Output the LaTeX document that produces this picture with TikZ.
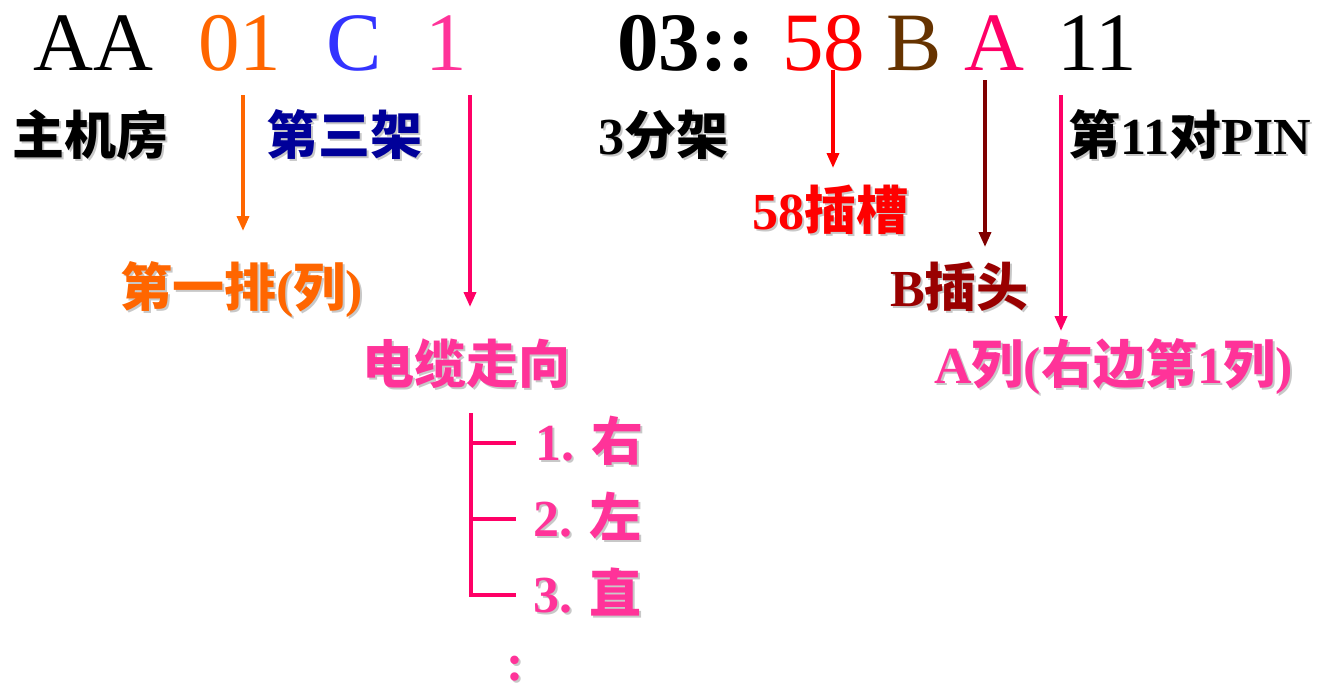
\documentclass[tikz,border=0pt]{standalone}
\usepackage{fontspec}
\setmainfont{Liberation Serif}
\newfontfamily\cjk{Noto Sans CJK SC}
\usetikzlibrary{arrows.meta}
\definecolor{cOrange}{HTML}{FF6600}
\definecolor{cBlue}{HTML}{3333FF}
\definecolor{cPink}{HTML}{FF3399}
\definecolor{cNavy}{HTML}{000099}
\definecolor{cRed}{HTML}{FF0000}
\definecolor{cBrown}{HTML}{663300}
\definecolor{cHot}{HTML}{FF0066}
\definecolor{cDark}{HTML}{800000}
\definecolor{cMaroon}{HTML}{990000}
\definecolor{cShade}{HTML}{C8C8C8}
\newcommand\zh[1]{{\cjk\bfseries #1}}
\newcommand\shlabel[5]{%
  \node[lab,text=cShade] (#1-sh) at (#2+2,#3+2) {#5};
  \node[lab,text=#4] (#1) at (#2,#3) {#5};}
\begin{document}
\begin{tikzpicture}[x=1pt,y=-1pt,
  top/.style={anchor=base west,inner sep=0pt,font=\fontsize{83}{83}\selectfont},
  topb/.style={top,font=\fontsize{83}{83}\selectfont\bfseries},
  lab/.style={anchor=base west,inner sep=0pt,font=\fontsize{52}{52}\selectfont\bfseries},
  arr/.style={line width=3.5pt,-{Triangle[length=15pt,width=12pt]}},
  brk/.style={line width=3.5pt,draw=cHot}]
\useasboundingbox (0,0) rectangle (1319,694);
% top code line
\node[top,text=black] (tAA) at (33,70) {AA};
\node[top,text=cOrange] (t01) at (198,70) {01};
\node[top,text=cBlue] (tC) at (326,70) {C};
\node[top,text=cPink] (t1) at (425,70) {1};
\node[topb,text=black] (t03) at (617,70) {03::};
\node[top,text=cRed] (t58) at (782,70) {58};
\node[top,text=cBrown] (tB) at (886,70) {B};
\node[top,text=cHot] (tA) at (964,70) {A};
\node[top,text=black] (t11) at (1057,70) {11};
% labels
\shlabel{l1}{12}{154}{black}{\zh{主机房}}
\shlabel{l2}{266}{154}{cNavy}{\zh{第三架}}
\shlabel{l3}{598}{154}{black}{3\zh{分架}}
\shlabel{l4}{1068}{154}{black}{\zh{第}11\zh{对}PIN}
\shlabel{l5}{752}{229}{cRed}{58\zh{插槽}}
\shlabel{l6}{120}{306}{cOrange}{\zh{第一排}(\zh{列})}
\shlabel{l7}{890}{306}{cMaroon}{B\zh{插头}}
\shlabel{l8}{362}{383}{cPink}{\zh{电缆走向}}
\shlabel{l9}{934}{383}{cPink}{A\zh{列}(\zh{右边第}1\zh{列})}
\shlabel{d1}{535}{460}{cPink}{1. \zh{右}}
\shlabel{d2}{533}{536}{cPink}{2. \zh{左}}
\shlabel{d3}{533}{612}{cPink}{3. \zh{直}}
\shlabel{dots}{506}{680}{cPink}{:}
% arrow end points
\coordinate (a1s) at (243,95);  \coordinate (a1e) at (243,231);
\coordinate (a2s) at (470,95);  \coordinate (a2e) at (470,307);
\coordinate (a3s) at (833,70);  \coordinate (a3e) at (833,168);
\coordinate (a4s) at (985,80);  \coordinate (a4e) at (985,247);
\coordinate (a5s) at (1061,95); \coordinate (a5e) at (1061,331);
\draw[arr,draw=cOrange,fill=cOrange] (a1s) -- (a1e);
\draw[arr,draw=cHot,fill=cHot] (a2s) -- (a2e);
\draw[arr,draw=cRed,fill=cRed] (a3s) -- (a3e);
\draw[arr,draw=cDark,fill=cDark] (a4s) -- (a4e);
\draw[arr,draw=cHot,fill=cHot] (a5s) -- (a5e);
% bracket
\coordinate (bTop) at (471,413);
\coordinate (bB1) at (471,443); \coordinate (bE1) at (516,443);
\coordinate (bB2) at (471,519); \coordinate (bE2) at (516,519);
\coordinate (bB3) at (471,595); \coordinate (bE3) at (516,595);
\draw[brk] (bTop) -- ([yshift=-1.75pt]bB3);
\draw[brk] (bB1) -- (bE1);
\draw[brk] (bB2) -- (bE2);
\draw[brk] (bB3) -- (bE3);
\end{tikzpicture}
\end{document}
